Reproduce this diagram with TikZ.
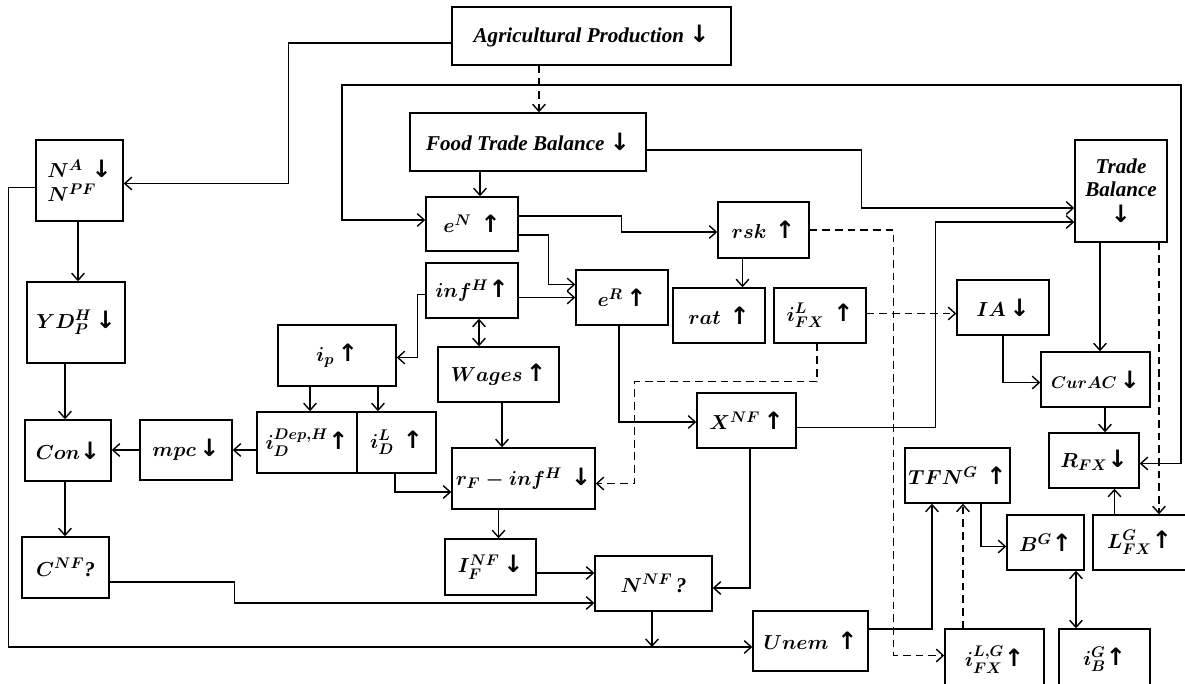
\documentclass[tikz,border=0pt]{standalone}
\usepackage{amsmath}
\usepackage{fontspec}
\setmainfont{Liberation Serif}
\newfontfamily\arrfont{DejaVu Sans}
\usepackage{tikz}
\usetikzlibrary{arrows.meta, positioning, calc}

\newcommand{\upar}{{\arrfont\bfseries\upshape\fontsize{17}{18}\selectfont ↑}}
\newcommand{\dnar}{{\arrfont\bfseries\upshape\fontsize{17}{18}\selectfont ↓}}

\begin{document}
\begin{tikzpicture}[x=0.025cm, y=-0.025cm, line width=1pt,
  >={Straight Barb[length=5pt, width=9pt]},
  box/.style={draw, line width=1pt, align=center, inner sep=2pt,
    font=\fontsize{15}{18}\selectfont\bfseries\itshape\boldmath},
  wh/.style 2 args={minimum width=#1*0.025cm, minimum height=#2*0.025cm},
  dep/.style={dash pattern=on 5.5pt off 3.5pt}]
  \useasboundingbox (0,0) rectangle (1185,684);

  \node[box, wh={279}{58}] (agri) at (591.5,36) {Agricultural Production \dnar};
  \node[box, wh={236}{58}] (food) at (528,142) {Food Trade Balance \dnar};
  \node[box, wh={87}{81}, align=left] (na) at (79.5,180.5) {$N^A$\, \dnar\\[-1pt] $N^{PF}$};
  \node[box, wh={92}{54}] (eN) at (472,224) {$e^N$\, \upar};
  \node[box, wh={91}{56}] (rsk) at (763.5,230) {$rsk$\, \upar};
  \node[box, wh={92}{102}] (tb) at (1121,191) {Trade\\[-2pt]Balance\\[1pt]\dnar};
  \node[box, wh={92}{55}] (infH) at (472,290.5) {$inf^H$\upar};
  \node[box, wh={92}{55}] (eR) at (622,297.5) {$e^R$\,\upar};
  \node[box, wh={92}{55}] (rat) at (719,315.5) {$rat$\, \upar};
  \node[box, wh={92}{55}] (iFXL) at (820,315.5) {$i^L_{FX}$\, \upar};
  \node[box, wh={92}{55}] (IA) at (1003,307.5) {$IA$\,\dnar};
  \node[box, wh={118}{61}] (ip) at (337,355.5) {$i_p$\,\upar};
  \node[box, wh={121}{55}] (wages) at (498.5,374.5) {$Wages$\,\upar};
  \node[box, wh={99}{55}] (XNF) at (746.5,420.5) {$X^{NF}$\,\upar};
  \node[box, wh={109}{55}, font=\fontsize{13}{15}\selectfont\bfseries\boldmath] (CurAC) at (1095.5,379.5) {$CurAC$\,\dnar};
  \node[box, wh={98}{81}] (YD) at (76,322.5) {$YD^H_P$\,\dnar};
  \node[box, wh={86}{61}] (Con) at (68,450.5) {$Con$\dnar};
  \node[box, wh={92}{60}] (mpc) at (186,450) {$mpc$\,\dnar};
  \node[box, wh={100}{61}] (iDDep) at (307,442.5) {$i_D^{Dep,H}$\upar};
  \node[box, wh={79}{61}] (iDL) at (396.5,442.5) {$i^L_D$\, \upar};
  \node[box, wh={143}{61}] (rF) at (523.5,478.5) {$r_F - inf^H$\, \dnar};
  \node[box, wh={90}{55}] (RFX) at (1094,460.5) {$R_{FX}$\dnar};
  \node[box, wh={105}{55}] (TFNG) at (957.5,475.5) {$TFN^G$\, \upar};
  \node[box, wh={77}{55}] (BG) at (1045.5,542.5) {$B^G$\upar};
  \node[box, wh={93}{55}] (LFXG) at (1139.5,542.5) {$L^G_{FX}$\upar};
  \node[box, wh={87}{61}] (CNF) at (65.5,567.5) {$C^{NF}$?};
  \node[box, wh={91}{56}] (IFNF) at (490.5,567) {$I^{NF}_F$\,\dnar};
  \node[box, wh={117}{55}] (NNF) at (653.5,583.5) {$N^{NF}$\,?};
  \node[box, wh={115}{60}] (Unem) at (810.5,641) {$Unem$\, \upar};
  \node[box, wh={99}{61}] (iFXLG) at (994.5,659.5) {$i^{L,G}_{FX}$\upar};
  \node[box, wh={91}{61}] (iBG) at (1104.5,659.5) {$i^G_B$\upar};

  \coordinate (topL) at (342,85);
  \coordinate (topR) at (1181,85);
  \coordinate (un) at ($(Unem.west)+(0,6)$);

  \draw[->] ($(agri.west)+(0,7)$) -- ++(-163,0) |- ($(na.east)+(0,3)$);
  \draw[dep,->] ($(agri.south)+(-52.5,0)$) coordinate (a1) -- (a1 |- food.north);
  \draw[<->] ($(eN.west)+(0,-4)$) -| (topL) -- (topR) |- ($(RFX.east)+(0,3)$);
  \draw[->] ($(food.south)+(-48,0)$) coordinate (f1) -- (f1 |- eN.north);
  \draw[->] ($(food.east)+(0,8)$) -- ++(215,0) |- ($(tb.west)+(0,17)$);
  \draw[->] ($(XNF.east)+(0,7)$) -- ++(139,0) |- ($(tb.west)+(0,31)$);
  \draw[->] ($(tb.south)+(-21,0)$) coordinate (t1) -- (t1 |- CurAC.north);
  \draw[dep,->] ($(tb.south)+(38,0)$) coordinate (t2) -- (t2 |- LFXG.north);
  \draw[->] ($(eN.east)+(0,-8)$) -- ++(103,0) |- ($(rsk.west)+(0,2)$);
  \draw[->] ($(eN.east)+(0,11)$) -- ++(30,0) |- ($(eR.west)+(0,-13)$);
  \draw[->] (eR.west -| infH.east) -- (eR.west);
  \draw[->] ($(infH.west)+(0,4)$) -- ++(-8,0) |- ($(ip.east)+(0,2)$);
  \draw[<->] ($(infH.south)+(7,0)$) coordinate (i1) -- (i1 |- wages.north);
  \draw[->] ($(eR.south)+(-3,0)$) |- ($(XNF.west)+(0,1.5)$);
  \draw[->] ($(rsk.south)+(-21,0)$) coordinate (r1) -- (r1 |- rat.north);
  \draw[dep,->] (rsk.east) -- ++(84,0) |- ($(iFXLG.west)+(0,-4)$);
  \draw[dep,->] ($(iFXL.east)+(0,-2)$) coordinate (x1) -- (x1 -| IA.west);
  \draw[dep,->] ($(iFXL.south)+(-3,0)$) -- ++(0,38) -| ($(rF.east)+(39,5)$) -- ($(rF.east)+(0,5)$);
  \draw[->] (IA.south) |- ($(CurAC.west)+(0,3)$);
  \draw[->] ($(CurAC.south)+(9.5,0)$) coordinate (c2) -- (c2 |- RFX.north);
  \draw[->] ($(LFXG.north)+(-25,0)$) coordinate (l1) -- (l1 |- RFX.south);
  \draw[->] ($(TFNG.south)+(23.5,0)$) |- ($(BG.west)+(0,4)$);
  \draw[<->] ($(BG.south)+(30.5,0)$) coordinate (b1) -- (b1 |- iBG.north);
  \draw[->] ($(Unem.east)+(0,-12)$) -| ($(TFNG.south)+(-25.5,0)$);
  \draw[dep,->] ($(iFXLG.north)+(-31.5,0)$) coordinate (g1) -- (g1 |- TFNG.south);
  \draw[->] ($(na.west)+(0,7)$) -- ++(-27,0) |- (un);
  \draw[->] ($(NNF.south)+(-1.5,0)$) coordinate (n1) -- (n1 |- un);
  \draw[->] ($(na.south)+(-1.5,0)$) coordinate (n2) -- (n2 |- YD.north);
  \draw[->] ($(YD.south)+(-11,0)$) coordinate (y1) -- (y1 |- Con.north);
  \draw[->] ($(Con.south)+(-3,0)$) coordinate (c3) -- (c3 |- CNF.north);
  \draw[->] (mpc.west) -- (mpc.west -| Con.east);
  \draw[->] (mpc.east -| iDDep.west) -- (mpc.east);
  \draw[->] ($(ip.south)+(-27,0)$) coordinate (p1) -- (p1 |- iDDep.north);
  \draw[->] ($(ip.south)+(41,0)$) coordinate (p2) -- (p2 |- iDL.north);
  \draw[->] ($(iDL.south)+(-1.5,0)$) |- ($(rF.west)+(0,13.5)$);
  \draw[->] ($(wages.south)+(3.5,0)$) coordinate (w1) -- (w1 |- rF.north);
  \draw[->] ($(rF.south)+(-25,0)$) coordinate (r2) -- (r2 |- IFNF.north);
  \draw[->] ($(IFNF.east)+(0,6)$) coordinate (i2) -- (i2 -| NNF.west);
  \draw[->] ($(CNF.east)+(0,14.5)$) -- ++(125,0) |- ($(NNF.west)+(0,19.5)$);
  \draw[->] ($(XNF.south)+(3.5,0)$) |- ($(NNF.east)+(0,4.5)$);
\end{tikzpicture}
\end{document}
